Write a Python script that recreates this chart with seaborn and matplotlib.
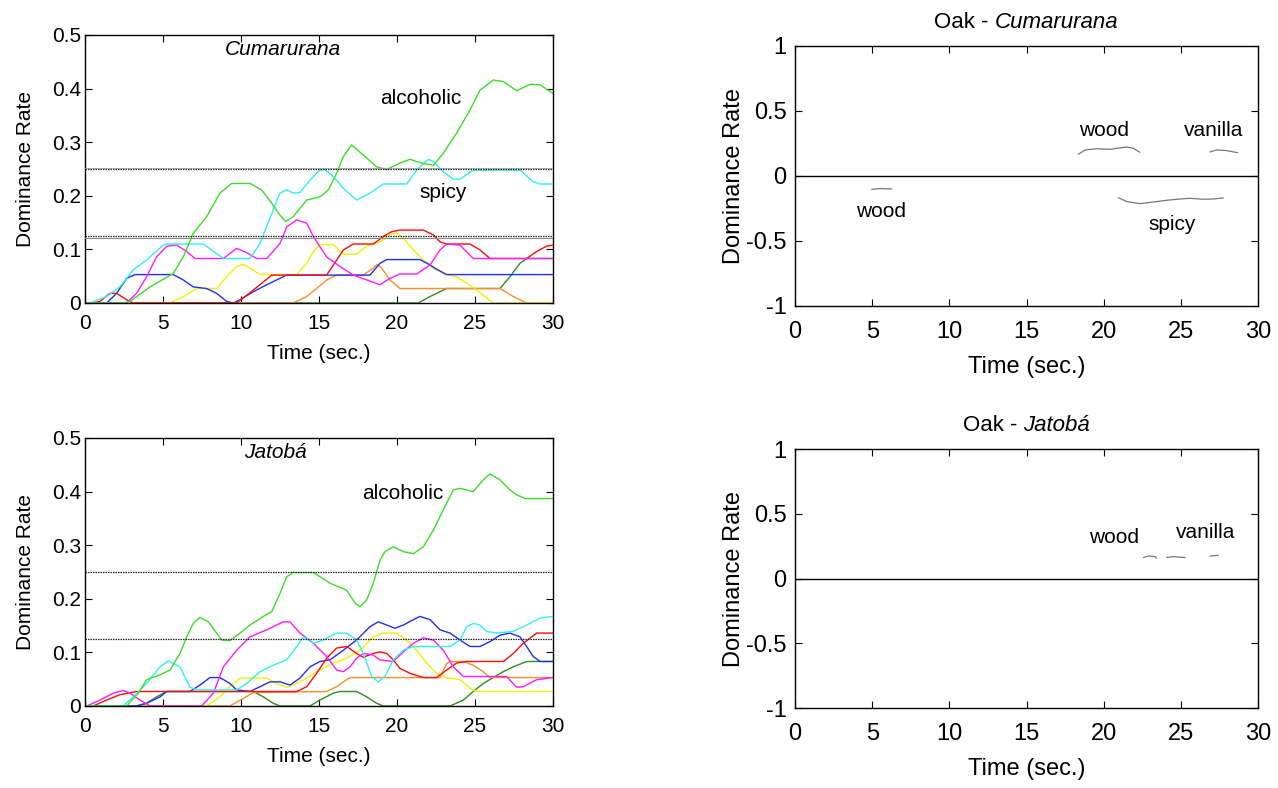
import numpy as np
import pandas as pd
import matplotlib
matplotlib.use("Agg")
import matplotlib.pyplot as plt
import seaborn as sns
from matplotlib.offsetbox import TextArea, HPacker, AnchoredOffsetbox

# ---------------------------------------------------------------------------
# Temporal dominance curves: (time in s, dominance rate) points per attribute
# ---------------------------------------------------------------------------
cum_alcoholic = [(0, 0), (2.46, 0), (2.88, 0.003), (4.17, 0.030), (5.66, 0.055), (6.30, 0.086),
                 (6.94, 0.130), (7.80, 0.161), (8.65, 0.205), (9.40, 0.223), (10.58, 0.223),
                 (11.32, 0.211), (11.97, 0.186), (12.50, 0.164), (12.86, 0.152), (13.35, 0.161),
                 (14.21, 0.192), (15.06, 0.198), (15.60, 0.211), (16.13, 0.242), (16.56, 0.273),
                 (17.09, 0.295), (17.84, 0.276), (18.70, 0.254), (19.34, 0.249), (20.19, 0.261),
                 (20.83, 0.268), (21.58, 0.261), (22.33, 0.257), (22.97, 0.279), (23.82, 0.317),
                 (24.68, 0.360), (25.32, 0.397), (26.18, 0.416), (26.82, 0.413), (27.67, 0.396),
                 (28.53, 0.408), (29.17, 0.407), (30.0, 0.391)]
cum_spicy = [(0, 0), (0.32, 0), (1.39, 0.012), (2.24, 0.030), (3.10, 0.062), (3.95, 0.080),
             (5.02, 0.108), (5.24, 0.110), (7.59, 0.110), (8.87, 0.083), (10.58, 0.083),
             (11.22, 0.111), (12.07, 0.174), (12.50, 0.205), (12.93, 0.211), (13.35, 0.205),
             (13.78, 0.206), (14.42, 0.229), (15.06, 0.248), (15.38, 0.249), (15.92, 0.236),
             (16.56, 0.214), (17.41, 0.192), (18.27, 0.205), (19.12, 0.222), (20.62, 0.222),
             (21.26, 0.248), (22.01, 0.268), (22.33, 0.264), (22.97, 0.245), (23.61, 0.231),
             (24.04, 0.231), (24.89, 0.248), (27.88, 0.248), (28.74, 0.226), (29.17, 0.222),
             (30.0, 0.222)]
cum_woody = [(0, 0), (2.67, 0), (3.31, 0.018), (3.95, 0.049), (4.59, 0.086), (5.24, 0.106),
             (5.88, 0.108), (6.52, 0.096), (7.05, 0.083), (8.87, 0.083), (9.72, 0.102),
             (10.36, 0.094), (11.00, 0.083), (11.65, 0.083), (12.50, 0.111), (12.93, 0.142),
             (13.57, 0.155), (14.21, 0.149), (14.64, 0.124), (15.49, 0.086), (16.35, 0.068),
             (17.20, 0.052), (18.06, 0.043), (18.91, 0.034), (19.55, 0.046), (20.19, 0.054),
             (21.26, 0.054), (22.12, 0.071), (22.76, 0.099), (23.18, 0.110), (24.04, 0.108),
             (24.89, 0.083), (30.0, 0.083)]
cum_sweet = [(0, 0), (0.50, 0), (0.96, 0.003), (1.60, 0.018), (2.03, 0.018), (2.67, 0.006),
             (3.10, 0), (9.72, 0), (10.79, 0.024), (11.97, 0.052), (15.49, 0.052), (16.13, 0.080),
             (16.56, 0.099), (17.20, 0.110), (18.48, 0.110), (19.12, 0.124), (19.66, 0.133),
             (20.19, 0.136), (21.69, 0.136), (22.33, 0.127), (22.76, 0.114), (23.18, 0.110),
             (24.68, 0.110), (25.32, 0.099), (25.96, 0.083), (28.31, 0.083), (28.95, 0.096),
             (29.59, 0.106), (30.0, 0.108)]
cum_bitter = [(0, 0), (1.39, 0), (2.03, 0.018), (2.67, 0.046), (3.21, 0.053), (5.66, 0.053),
              (6.30, 0.043), (6.94, 0.030), (7.80, 0.027), (8.44, 0.018), (9.08, 0.003),
              (9.51, 0), (9.94, 0.006), (10.79, 0.021), (11.65, 0.034), (12.50, 0.046),
              (12.93, 0.052), (18.27, 0.052), (18.91, 0.074), (19.34, 0.081), (21.47, 0.081),
              (22.12, 0.071), (22.54, 0.063), (23.18, 0.053), (30.0, 0.053)]
cum_vanilla = [(0, 0), (5.45, 0), (6.30, 0.012), (7.16, 0.027), (8.44, 0.027), (9.08, 0.049),
               (9.72, 0.068), (10.15, 0.072), (10.58, 0.065), (11.22, 0.053), (13.57, 0.053),
               (14.21, 0.074), (14.64, 0.096), (15.06, 0.109), (15.92, 0.109), (16.56, 0.091),
               (17.41, 0.091), (18.06, 0.106), (18.91, 0.114), (19.55, 0.127), (19.98, 0.131),
               (20.41, 0.121), (21.05, 0.099), (21.69, 0.080), (22.33, 0.065), (23.18, 0.053),
               (23.82, 0.049), (24.47, 0.037), (25.11, 0.024), (25.64, 0.012), (26.18, 0),
               (30.0, 0)]
cum_astringent = [(0, 0), (13.35, 0), (14.21, 0.012), (14.85, 0.027), (15.49, 0.043),
                  (16.13, 0.052), (17.84, 0.052), (18.48, 0.065), (18.70, 0.072), (19.02, 0.065),
                  (19.55, 0.043), (20.19, 0.027), (26.60, 0.027), (27.46, 0.012), (28.31, 0),
                  (30.0, 0)]
cum_smoky = [(0, 0), (21.37, 0), (22.12, 0.012), (22.76, 0.021), (23.18, 0.027), (26.60, 0.027),
             (27.24, 0.049), (27.88, 0.074), (28.31, 0.083), (30.0, 0.083)]

jat_alcoholic = [(0, 0), (2.67, 0), (3.42, 0.024), (3.95, 0.049), (4.81, 0.058), (5.45, 0.067),
                 (6.09, 0.098), (6.52, 0.129), (6.94, 0.154), (7.37, 0.165), (7.91, 0.157),
                 (8.44, 0.136), (8.76, 0.123), (9.29, 0.122), (9.94, 0.136), (10.58, 0.151),
                 (11.43, 0.167), (11.97, 0.176), (12.50, 0.210), (12.93, 0.241), (13.35, 0.249),
                 (14.64, 0.249), (15.71, 0.229), (16.77, 0.216), (17.31, 0.192), (17.63, 0.185),
                 (18.06, 0.198), (18.48, 0.229), (18.91, 0.272), (19.23, 0.288), (19.76, 0.297),
                 (20.41, 0.288), (21.05, 0.284), (21.69, 0.297), (22.33, 0.328), (22.97, 0.366),
                 (23.61, 0.403), (24.04, 0.406), (24.89, 0.400), (25.53, 0.422), (25.96, 0.433),
                 (26.60, 0.422), (27.24, 0.403), (27.67, 0.394), (28.21, 0.387), (30.0, 0.387)]
jat_spicy = [(0, 0), (2.46, 0), (3.10, 0.017), (3.95, 0.042), (4.81, 0.073), (5.34, 0.084),
             (6.09, 0.073), (6.73, 0.035), (7.16, 0.030), (9.72, 0.030), (10.36, 0.042),
             (11.22, 0.064), (12.07, 0.076), (12.93, 0.086), (13.57, 0.111), (14.00, 0.129),
             (14.64, 0.117), (15.28, 0.123), (16.13, 0.136), (16.77, 0.136), (17.41, 0.123),
             (17.84, 0.098), (18.38, 0.055), (18.80, 0.045), (19.23, 0.055), (19.76, 0.086),
             (20.41, 0.104), (21.05, 0.111), (23.40, 0.111), (24.04, 0.123), (24.47, 0.148),
             (24.89, 0.154), (25.32, 0.151), (25.75, 0.139), (26.39, 0.136), (27.46, 0.139),
             (28.31, 0.151), (29.17, 0.164), (30.0, 0.167)]
jat_woody = [(0, 0), (0.11, 0), (0.96, 0.011), (1.82, 0.024), (2.46, 0.029), (2.88, 0.024),
             (3.53, 0.011), (4.17, 0), (7.48, 0), (8.23, 0.024), (8.87, 0.073), (9.72, 0.104),
             (10.58, 0.129), (11.65, 0.142), (12.71, 0.157), (13.14, 0.157), (13.78, 0.136),
             (14.64, 0.117), (15.49, 0.092), (16.13, 0.067), (16.56, 0.064), (16.99, 0.073),
             (17.41, 0.089), (17.84, 0.098), (18.48, 0.095), (18.91, 0.086), (19.76, 0.083),
             (20.41, 0.101), (21.05, 0.117), (21.69, 0.127), (22.33, 0.123), (22.97, 0.104),
             (23.61, 0.073), (24.25, 0.055), (27.03, 0.055), (27.67, 0.035), (28.10, 0.036),
             (28.95, 0.049), (30.0, 0.053)]
jat_sweet = [(0, 0), (0.53, 0), (1.39, 0.011), (2.24, 0.021), (3.31, 0.027), (13.57, 0.027),
             (14.21, 0.036), (14.85, 0.061), (15.49, 0.089), (16.13, 0.108), (16.77, 0.111),
             (17.41, 0.098), (17.84, 0.091), (18.48, 0.098), (18.91, 0.101), (19.34, 0.098),
             (19.76, 0.086), (20.19, 0.070), (20.83, 0.061), (21.69, 0.053), (22.54, 0.053),
             (23.18, 0.067), (23.82, 0.080), (24.47, 0.083), (26.82, 0.083), (27.46, 0.098),
             (28.10, 0.117), (28.95, 0.136), (30.0, 0.136)]
jat_bitter = [(0, 0), (3.31, 0), (3.95, 0.005), (4.81, 0.017), (5.24, 0.027), (6.73, 0.027),
              (7.37, 0.039), (8.01, 0.053), (8.65, 0.053), (9.29, 0.042), (9.72, 0.030),
              (10.58, 0.027), (11.22, 0.036), (11.86, 0.045), (12.50, 0.045), (13.14, 0.039),
              (13.78, 0.052), (14.42, 0.073), (15.06, 0.083), (15.71, 0.086), (16.56, 0.104),
              (17.41, 0.123), (18.27, 0.148), (18.80, 0.157), (19.34, 0.151), (19.87, 0.145),
              (20.41, 0.151), (21.05, 0.161), (21.47, 0.167), (22.12, 0.161), (22.76, 0.142),
              (23.40, 0.136), (24.04, 0.123), (24.68, 0.111), (25.32, 0.111), (25.96, 0.120),
              (26.60, 0.132), (27.24, 0.136), (27.88, 0.129), (28.31, 0.111), (28.74, 0.092),
              (29.17, 0.083), (30.0, 0.083)]
jat_vanilla = [(0, 0), (7.80, 0), (8.65, 0.017), (9.29, 0.036), (9.94, 0.052), (11.65, 0.052),
               (12.29, 0.042), (12.93, 0.035), (13.35, 0.039), (14.21, 0.052), (15.06, 0.067),
               (15.92, 0.080), (16.77, 0.089), (17.63, 0.104), (18.48, 0.129), (19.12, 0.136),
               (19.98, 0.136), (20.62, 0.123), (21.26, 0.104), (21.90, 0.080), (22.54, 0.061),
               (23.18, 0.053), (24.04, 0.049), (24.68, 0.033), (25.11, 0.027), (30.0, 0.027)]
jat_astringent = [(0, 0), (9.29, 0), (10.15, 0.014), (10.79, 0.025), (15.49, 0.027),
                  (16.13, 0.036), (16.77, 0.049), (16.99, 0.053), (22.76, 0.053), (23.18, 0.079),
                  (23.40, 0.083), (24.25, 0.083), (24.89, 0.076), (25.53, 0.064), (25.96, 0.053),
                  (30.0, 0.053)]
jat_smoky = [(0, 0), (3.31, 0), (3.95, 0.005), (4.59, 0.017), (5.24, 0.027), (10.79, 0.027),
             (11.43, 0.017), (12.07, 0.005), (12.50, 0), (14.42, 0), (15.06, 0.011),
             (15.92, 0.024), (16.35, 0.027), (17.41, 0.027), (18.06, 0.017), (18.70, 0.005),
             (19.12, 0), (23.40, 0), (24.25, 0.011), (24.89, 0.027), (25.53, 0.042),
             (26.17, 0.053), (26.81, 0.064), (27.46, 0.073), (28.31, 0.083), (30.0, 0.083)]

# Difference curves (significant stretches only)
oak_cum_wood_pos = [(18.36, 0.167), (18.79, 0.200), (19.55, 0.210), (20.41, 0.205),
                    (21.49, 0.223), (21.92, 0.213), (22.35, 0.182)]
oak_cum_vanilla = [(26.89, 0.185), (27.32, 0.200), (27.97, 0.195), (28.68, 0.179)]
oak_cum_wood_neg = [(4.97, -0.103), (5.51, -0.097), (6.26, -0.100)]
oak_cum_spicy = [(20.95, -0.167), (21.49, -0.197), (22.35, -0.213), (23.22, -0.200),
                 (24.08, -0.187), (24.95, -0.177), (25.59, -0.172), (26.46, -0.179),
                 (27.11, -0.177), (27.75, -0.169)]
oak_jat_wood_a = [(22.57, 0.162), (22.89, 0.174), (23.33, 0.169), (23.43, 0.156)]
oak_jat_wood_b = [(24.08, 0.162), (24.51, 0.169), (25.27, 0.162)]
oak_jat_vanilla = [(26.89, 0.174), (27.43, 0.179)]

attr_order = ["smoky", "astringent", "vanilla", "bitter", "sweet", "woody", "spicy", "alcoholic"]
attr_colors = {
    "alcoholic": "#3ddc2a",
    "spicy": "#2ff0f0",
    "woody": "#ff1aff",
    "sweet": "#ff0a0a",
    "bitter": "#1f2ff0",
    "vanilla": "#f2f200",
    "astringent": "#ff8c2a",
    "smoky": "#2e8b22",
}

cum_series = {"alcoholic": cum_alcoholic, "spicy": cum_spicy, "woody": cum_woody,
              "sweet": cum_sweet, "bitter": cum_bitter, "vanilla": cum_vanilla,
              "astringent": cum_astringent, "smoky": cum_smoky}
jat_series = {"alcoholic": jat_alcoholic, "spicy": jat_spicy, "woody": jat_woody,
              "sweet": jat_sweet, "bitter": jat_bitter, "vanilla": jat_vanilla,
              "astringent": jat_astringent, "smoky": jat_smoky}

CHANCE_LEVEL = 0.125
SIGNIF_LEVEL = 0.25

sns.set_theme(style="white")
plt.rcParams["font.family"] = ["Liberation Sans", "DejaVu Sans"]
plt.rcParams["axes.unicode_minus"] = False
plt.rcParams["text.color"] = "black"
plt.rcParams["axes.labelcolor"] = "black"
plt.rcParams["xtick.color"] = "black"
plt.rcParams["ytick.color"] = "black"

fig = plt.figure(figsize=(12.78, 7.88), dpi=100)
ax_cum = fig.add_axes([0.0665, 0.6155, 0.3662, 0.3401])
ax_jat = fig.add_axes([0.0665, 0.1041, 0.3662, 0.3401])
ax_dc = fig.add_axes([0.6221, 0.6117, 0.3623, 0.3300])
ax_dj = fig.add_axes([0.6221, 0.1015, 0.3623, 0.3287])

LEFT_FS = 15
RIGHT_FS = 17
NOTE_FS = 15


def to_frame(series):
    rows = []
    for name in attr_order:
        for t, v in series[name]:
            rows.append({"time": t, "rate": v, "attribute": name})
    return pd.DataFrame(rows)


def style_box(ax, fs, xpad, ypad):
    for sp in ax.spines.values():
        sp.set_visible(True)
        sp.set_color("black")
        sp.set_linewidth(1.0)
    ax.tick_params(direction="in", length=5, width=0.8, colors="black",
                   top=True, right=True, bottom=True, left=True, labelsize=fs)
    ax.tick_params(axis="x", pad=xpad)
    ax.tick_params(axis="y", pad=ypad)
    ax.set_xlim(0, 30)
    ax.set_xticks([0, 5, 10, 15, 20, 25, 30])
    ax.grid(False)


def tds_panel(ax, series, title, title_x, labels):
    df = to_frame(series)
    sns.lineplot(data=df, x="time", y="rate", hue="attribute", hue_order=attr_order,
                 palette=attr_colors, estimator=None, sort=False, legend=False,
                 linewidth=1.0, ax=ax)
    ax.axhline(SIGNIF_LEVEL, color="#222222", lw=0.9, ls=(0, (1.2, 0.8)), zorder=3)
    ax.axhline(CHANCE_LEVEL, color="#222222", lw=0.9, ls=(0, (1.2, 0.8)), zorder=3)
    style_box(ax, LEFT_FS, xpad=8, ypad=3)
    ax.set_ylim(0, 0.5)
    ax.set_yticks([0, 0.1, 0.2, 0.3, 0.4, 0.5])
    ax.set_yticklabels(["0", "0.1", "0.2", "0.3", "0.4", "0.5"])
    ax.set_xlabel("Time (sec.)", fontsize=LEFT_FS, labelpad=8)
    ax.set_ylabel("Dominance Rate", fontsize=LEFT_FS, labelpad=12)
    ax.text(title_x, 0.472, title, fontsize=LEFT_FS, style="italic", ha="center", va="center")
    for txt, x, y in labels:
        ax.text(x, y, txt, fontsize=NOTE_FS, ha="center", va="center")


tds_panel(ax_cum, cum_series, "Cumarurana", 12.7,
          [("alcoholic", 21.5, 0.382), ("spicy", 22.95, 0.207)])
ax_cum.axhline(0.121, color="#888888", lw=0.8, zorder=3)
ax_cum.axhline(0.252, color="#999999", lw=0.6, zorder=3)
tds_panel(ax_jat, jat_series, "Jatobá", 12.2, [("alcoholic", 20.4, 0.396)])


def diff_panel(ax, curves, name, labels):
    rows = []
    for i, c in enumerate(curves):
        for t, v in c:
            rows.append({"time": t, "diff": v, "seg": i})
    df = pd.DataFrame(rows)
    sns.lineplot(data=df, x="time", y="diff", units="seg", estimator=None, sort=False,
                 color="#777777", linewidth=0.9, legend=False, ax=ax)
    ax.axhline(0, color="black", lw=1.0)
    style_box(ax, RIGHT_FS, xpad=11, ypad=6)
    ax.set_ylim(-1, 1)
    ax.set_yticks([-1, -0.5, 0, 0.5, 1])
    ax.set_yticklabels(["-1", "-0.5", "0", "0.5", "1"])
    ax.set_xlabel("Time (sec.)", fontsize=RIGHT_FS, labelpad=9)
    ax.set_ylabel("Dominance Rate", fontsize=RIGHT_FS, labelpad=1)
    for txt, x, y in labels:
        ax.text(x, y, txt, fontsize=NOTE_FS, ha="center", va="center")
    head = HPacker(children=[TextArea("Oak - ", textprops=dict(fontsize=16)),
                             TextArea(name, textprops=dict(fontsize=16, style="italic"))],
                   align="baseline", pad=0, sep=0)
    box = AnchoredOffsetbox(loc="lower center", child=head, pad=0, frameon=False,
                            bbox_to_anchor=(0.5, 1.05), bbox_transform=ax.transAxes,
                            borderpad=0)
    ax.add_artist(box)


diff_panel(ax_dc, [oak_cum_wood_pos, oak_cum_vanilla, oak_cum_wood_neg, oak_cum_spicy],
           "Cumarurana",
           [("wood", 20.0, 0.35), ("vanilla", 27.1, 0.35), ("wood", 5.6, -0.27),
            ("spicy", 24.4, -0.37)])
diff_panel(ax_dj, [oak_jat_wood_a, oak_jat_wood_b, oak_jat_vanilla], "Jatobá",
           [("wood", 20.7, 0.315), ("vanilla", 26.6, 0.354)])

fig.savefig("out.png", dpi=100, facecolor="white")
